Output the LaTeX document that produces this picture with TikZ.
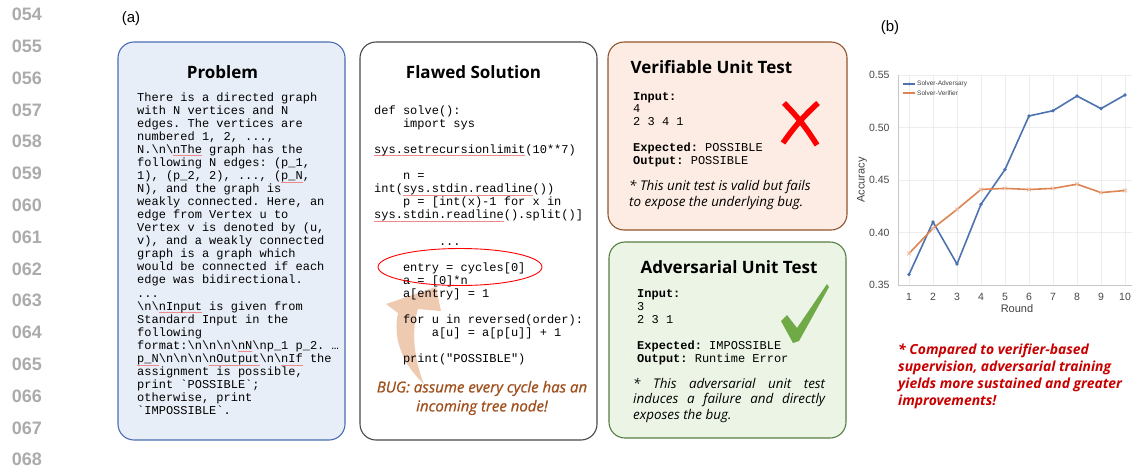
\documentclass[tikz,border=0pt]{standalone}
\usepackage{fontspec}
\setmainfont{Open Sans}
\setmonofont{Liberation Mono}
\newfontfamily\arialfont{Liberation Sans}
\newfontfamily\medfont[FakeBold=0.9]{Open Sans}
\usetikzlibrary{positioning,calc}

\definecolor{probfill}{HTML}{E8EEF7}
\definecolor{probborder}{HTML}{4A6CB4}
\definecolor{solborder}{HTML}{484848}
\definecolor{verfill}{HTML}{FCECE3}
\definecolor{verborder}{HTML}{92552C}
\definecolor{advfill}{HTML}{ECF4E6}
\definecolor{advborder}{HTML}{567F42}
\definecolor{bugbrown}{HTML}{A0501E}
\definecolor{arrowpeach}{HTML}{EECAB0}
\definecolor{checkgreen}{HTML}{6FAA46}
\definecolor{advblue}{HTML}{4C72B0}
\definecolor{verorange}{HTML}{DD8452}
\definecolor{notered}{HTML}{C80000}
\definecolor{linenum}{HTML}{ABABAB}
\definecolor{sqred}{HTML}{F08A8A}

\newdimen\mchar \mchar=7.2pt
\newcommand{\ci}[1]{\hspace*{#1\mchar}}
\newcommand{\bs}{\textbackslash}
\newcommand{\sq}[1]{\setbox0=\hbox{#1}\rlap{\textcolor{sqred}{\rule[-2.6pt]{\wd0}{0.5pt}}}\box0\relax}
\newcommand{\txtlines}[2][13.1pt]{\vtop{\baselineskip=#1\lineskiplimit=-\maxdimen\lineskip=0pt\halign{##\hfil\cr#2\crcr}}}

\tikzset{
  box/.style={draw, line width=1.1pt, rounded corners=16pt, inner sep=0pt},
  title/.style={font=\bfseries\fontsize{17}{20}\selectfont, anchor=base},
  code/.style={font=\ttfamily\fontsize{12}{13.1}\selectfont, anchor=base west, inner sep=0pt},
  note/.style={font=\itshape\fontsize{13.4}{16}\selectfont, anchor=base west, inner sep=0pt},
  lnum/.style={font=\arialfont\bfseries\fontsize{18}{21}\selectfont, text=linenum},
  panel/.style={font=\arialfont\fontsize{15}{18}\selectfont},
  tick/.style={font=\arialfont\fontsize{10.5}{12}\selectfont, text=black!72},
  axislabel/.style={font=\arialfont\fontsize{11}{13}\selectfont, text=black!75},
  legend/.style={font=\arialfont\fontsize{6.5}{8}\selectfont, text=black!75, anchor=west, inner sep=0pt},
  grid/.style={draw=black!7, line width=0.6pt},
  spine/.style={draw=black!22, line width=0.8pt},
  advplot/.style={draw=advblue, line width=1.6pt, line join=round},
  verplot/.style={draw=verorange, line width=1.6pt, line join=round},
}

\begin{document}
\begin{tikzpicture}[x=1pt, y=-1pt]
\useasboundingbox (0,0) rectangle (1132,469);

% line numbers
\foreach \i in {54,...,68}
  \node[lnum] (ln\i) at (27,{14.5+31.8*(\i-54)}) {0\i};

\node[panel] (labela) at (131,19) {(a)};
\node[panel] (labelb) at (890,28) {(b)};

% the four panels
\node[box, draw=probborder, fill=probfill, minimum width=227pt, minimum height=398pt] (prob) at (231.5,241) {};
\node[box, draw=solborder, fill=white, minimum width=237pt, minimum height=398pt] (sol) at (478.5,241) {};
\node[box, draw=verborder, fill=verfill, minimum width=239pt, minimum height=188pt] (ver) at (727.5,136) {};
\node[box, draw=advborder, fill=advfill, minimum width=237pt, minimum height=196pt] (adv) at (727.5,340) {};

\node[title] (probtitle) at ($(prob.north)+(-9,37)$) {Problem};
\node[title] (soltitle) at ($(sol.north)+(-5,37)$) {Flawed Solution};
\node[title, anchor=base west] (vertitle) at (627,73) {Verifiable Unit Test};
\node[title, anchor=base west] (advtitle) at (637,273) {Adversarial Unit Test};

% problem statement
\node[code] (probtext) at (137,101) {\txtlines[13.07pt]{%
There is a directed graph\cr
with N vertices and N\cr
edges. The vertices are\cr
numbered 1, 2, ...,\cr
N.\bs n\bs\sq{nThe} graph has the\cr
following N edges: (p\_1,\cr
1), (p\_2, 2), ..., (\sq{p\_N},\cr
N), and the graph is\cr
weakly connected. Here, an\cr
edge from Vertex u to\cr
Vertex v is denoted by (u,\cr
v), and a weakly connected\cr
graph is a graph which\cr
would be connected if each\cr
edge was bidirectional.\cr
...\cr
\bs n\bs\sq{nInput} is given from\cr
Standard Input in the\cr
following\cr
format:\bs n\bs n\bs n\bs\sq{nN}\bs np\_1 p\_2. …\cr
\sq{p\_N}\bs n\bs n\bs n\bs\sq{nOutput}\bs n\bs\sq{nIf} the\cr
assignment is possible,\cr
print `POSSIBLE`;\cr
otherwise, print\cr
`IMPOSSIBLE`.}};

% pointer to the buggy line
\fill[arrowpeach] (424,384) .. controls (400,362) and (393,335) .. (398,313)
  -- (386,304) -- (436,287) -- (441,311) -- (418,309)
  .. controls (411,330) and (414,360) .. (424,384) -- cycle;

% flawed code
\node[code] (codetext) at (374,114) {\txtlines{%
def solve():\cr
\ci{4}import sys\cr
\cr
\sq{sys.setrecursionlimit}(10**7)\cr
\cr
\ci{4}n =\cr
int(\sq{sys.stdin.readline}())\cr
\ci{4}p = [int(x)-1 for x in\cr
\sq{sys.stdin.readline}().split()]\cr
\cr
\ci{9}...\cr
\cr
\ci{4}entry = cycles[0]\cr
\ci{4}a = [0]*n\cr
\ci{4}a[entry] = 1\cr
\cr
\ci{4}for u in reversed(order):\cr
\ci{8}a[u] = a[p[u]] + 1\cr
\cr
\ci{4}print("POSSIBLE")}};

\draw[red, line width=0.9pt] (460,267) ellipse [x radius=82, y radius=18.5];

\node[font=\medfont\itshape\fontsize{15}{19}\selectfont, text=bugbrown, align=center] (bug) at (482,398)
  {BUG: assume every cycle has an\\incoming tree node!};

% verifiable unit test
\node[code] (verio) at (633,100) {\txtlines[12.9pt]{%
\textbf{Input:}\cr
4\cr
2 3 4 1\cr
\cr
\textbf{Expected:} POSSIBLE\cr
\textbf{Output:} POSSIBLE}};
\node[note] (vernote) at (629,190) {\txtlines[16pt]{%
* This unit test is valid but fails\cr
to expose the underlying bug.}};
\draw[red, line width=5.5pt] (784,103) to[bend left=6] (817,145);
\draw[red, line width=5.5pt] (818,103) to[bend right=6] (783,143);

% adversarial unit test
\node[code] (advio) at (637,297) {\txtlines[13pt]{%
\textbf{Input:}\cr
3\cr
2 3 1\cr
\cr
\textbf{Expected:} IMPOSSIBLE\cr
\textbf{Output:} Runtime Error}};
\node[note] (advnote) at (633,388) {\txtlines[15.5pt]{%
\hbox to 192pt{* This adversarial unit test}\cr
\hbox to 192pt{induces a failure and directly}\cr
exposes the bug.}};
\fill[checkgreen] (781,321) -- (787,315) -- (797,328) -- (827,284) -- (829,287)
  -- (799,341) -- (793,343) -- cycle;

% accuracy chart
\foreach \r in {1,...,10}
  \draw[grid] ({909+24*(\r-1)},75) -- ({909+24*(\r-1)},285);
\foreach \k/\lab in {0/0.35,1/0.40,2/0.45,3/0.50,4/0.55} {
  \draw[grid] (898,{285-52.5*\k}) -- (1132,{285-52.5*\k});
  \node[tick, anchor=east] (yt\k) at (893,{285-52.5*\k}) {\lab};
}
\draw[spine] (898,75) -- (898,285) -- (1132,285);
\foreach \r in {1,...,10}
  \node[tick] (xt\r) at ({909+24*(\r-1)},297) {\r};
\node[axislabel] (xlab) at (1017,309) {Round};
\node[axislabel, rotate=90] (ylab) at (862,180) {Accuracy};

\foreach \r/\a/\v in {1/0.36/0.38, 2/0.41/0.404, 3/0.37/0.422, 4/0.427/0.441,
    5/0.46/0.442, 6/0.511/0.441, 7/0.516/0.442, 8/0.530/0.446, 9/0.518/0.438, 10/0.531/0.440} {
  \coordinate (a\r) at ({909+24*(\r-1)},{285-(\a-0.35)*1050});
  \coordinate (v\r) at ({909+24*(\r-1)},{285-(\v-0.35)*1050});
}
\draw[advplot] (a1) \foreach \r in {2,...,10} {-- (a\r)};
\foreach \r in {1,...,10} \fill[advblue] (a\r) circle (1.9pt);
\draw[verplot] (v1) \foreach \r in {2,...,10} {-- (v\r)};
\foreach \r in {1,...,10}
  \draw[verorange!55!white, line width=0.8pt] ($(v\r)+(-1.8,-1.8)$) -- ($(v\r)+(1.8,1.8)$)
    ($(v\r)+(-1.8,1.8)$) -- ($(v\r)+(1.8,-1.8)$);

% legend
\coordinate (leg1l) at (903,84); \coordinate (leg1r) at (915,84);
\coordinate (leg2l) at (903,93); \coordinate (leg2r) at (915,93);
\draw[advplot, line width=1.1pt] (leg1l) -- (leg1r);
\fill[advblue] ($(leg1l)!0.5!(leg1r)$) circle (1.5pt);
\node[legend] (leg1) at (917,84) {Solver-Adversary};
\draw[verplot, line width=1.1pt] (leg2l) -- (leg2r);
\node[legend] (leg2) at (917,93) {Solver-Verifier};

% take-away
\node[anchor=base west, inner sep=0pt, text=notered, font=\bfseries\itshape\fontsize{13.9}{17}\selectfont] (takeaway) at (898,354)
  {\txtlines[17.3pt]{%
* Compared to verifier-based\cr
supervision, adversarial training\cr
yields more sustained and greater\cr
improvements!}};

\end{tikzpicture}
\end{document}
